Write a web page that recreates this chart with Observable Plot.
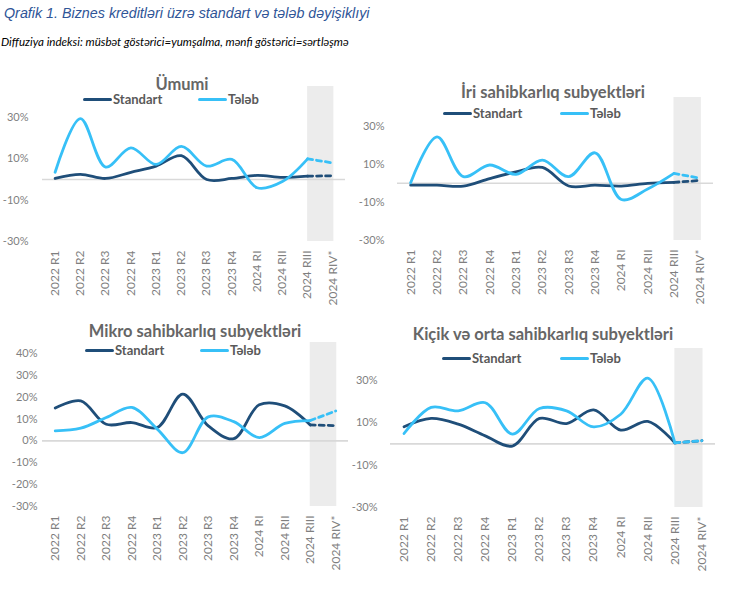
<!DOCTYPE html>
<html>
<head>
<meta charset="utf-8">
<script src="https://cdn.jsdelivr.net/npm/d3@7"></script>
<script src="https://cdn.jsdelivr.net/npm/@observablehq/plot@0.6"></script>
<style>
  html, body { margin: 0; padding: 0; background: #fff; }
  #root { position: relative; width: 732px; height: 599px; overflow: hidden; font-family: Lato, "Open Sans", sans-serif; }
  .abs { position: absolute; white-space: nowrap; }
  .title { left: 4px; top: 5px; font: italic 14.3px "Liberation Sans", Arial, sans-serif; color: #2f5597; }
  .subtitle { left: 1px; top: 35px; font: italic 11.6px Lato, "Liberation Sans", sans-serif; color: #000; }
  .ptitle { transform: translate(-50%, -50%); font: bold 16.5px Lato, sans-serif; color: #666666; }
  .leg { transform: translateY(-50%); font: bold 13px Lato, sans-serif; color: #595959; display: flex; align-items: center; }
  .sw { display: inline-block; width: 29px; height: 3px; border-radius: 1.5px; margin-right: 1px; }
  svg { position: absolute; overflow: visible; }
</style>
</head>
<body>
<div id="root"></div>
<script>
// ---- data ----
const categories = ["2022 R1","2022 R2","2022 R3","2022 R4","2023 R1","2023 R2","2023 R3","2023 R4","2024 RI","2024 RII","2024 RIII","2024 RIV*"];
const forecastFrom = "2024 RIII";   // shaded forecast area starts here
const forecastTo = "2024 RIV*";
const seriesNames = ["Standart", "Tələb"];

const umumiStandart = [0.5, 2.5, 0.5, 3.5, 6.5, 11.5, 0, 0.5, 2, 1, 1.6, 1.8];
const umumiTeleb    = [3.5, 29.5, 6, 15.3, 7.3, 16, 6.5, 9.7, -4, -1, 10, 8];

const iriStandart = [-1, -1, -1.5, 2.5, 6, 8.3, -1.4, -1, -1.5, 0, 0.5, 1.5];
const iriTeleb    = [0.3, 24.4, 3.5, 9.6, 4.7, 12.2, 3.5, 16, -8.5, -3, 5.2, 2.6];

const mikroStandart = [15, 18.3, 7.6, 8.4, 6.1, 21.4, 6.9, 1, 16.5, 16, 7.3, 7];
const mikroTeleb    = [4.6, 5.8, 10.7, 15.3, 5.4, -5.4, 11, 8.8, 1.5, 8, 9.3, 13.7];

const kosStandart = [8.1, 12, 9.3, 3.8, -1, 12, 9.6, 16, 6.5, 10.6, 0.5, 1.5];
const kosTeleb    = [4.9, 17.2, 15.6, 19.4, 4.6, 16.7, 15.6, 8, 14, 31, 0.5, 1.5];

const ticksWide = [-30, -10, 10, 30];
const ticksMikro = [-30, -20, -10, 0, 10, 20, 30, 40];

const panelTitles = ["Ümumi", "İri sahibkarlıq subyektləri", "Mikro sahibkarlıq subyektləri", "Kiçik və orta sahibkarlıq subyektləri"];

const colorStd = "#1f4e79";
const colorTel = "#37c0f7";

const root = document.getElementById("root");
function addDiv(cls, html, style) {
  const d = document.createElement("div");
  d.className = "abs " + cls;
  d.innerHTML = html;
  Object.assign(d.style, style);
  root.appendChild(d);
  return d;
}

addDiv("title", "Qrafik 1. Biznes kreditləri üzrə standart və tələb dəyişiklıyi", {});
addDiv("subtitle", "Diffuziya indeksi: müsbət göstərici=yumşalma, mənfi göstərici=sərtləşmə", {});

function panel(cfg) {
  const idx = categories.map((c, i) => i);
  const fIdx = categories.indexOf(forecastFrom);
  const tIdx = categories.indexOf(forecastTo);
  const mk = (arr) => idx.map(i => ({i, v: arr[i]}));
  const std = mk(cfg.std), tel = mk(cfg.tel);
  const solid = d => d.i <= fIdx;
  const dashed = d => d.i >= fIdx;
  const lineOpts = {x: "i", y: "v", curve: "catmull-rom", strokeWidth: 2.8, strokeLinecap: "round"};
  const chart = Plot.plot({
    width: cfg.width, height: cfg.height,
    marginLeft: cfg.mL, marginRight: cfg.mR, marginTop: cfg.mT, marginBottom: cfg.mB,
    style: {fontFamily: "Lato, sans-serif", fontSize: "11px", color: "#7f7f7f", background: "transparent", overflow: "visible"},
    x: {type: "linear", domain: [-0.5, categories.length - 0.5], axis: null},
    y: {domain: [-30, 45], axis: null},
    marks: [
      Plot.rectY([{x1: fIdx, x2: tIdx + 0.04}], {x1: "x1", x2: "x2", y1: -30, y2: 45, fill: "#ececec"}),
      Plot.ruleY([0], {stroke: "#d9d9d9", strokeWidth: 1.6, x1: -0.5, x2: categories.length - 0.5}),
      Plot.axisY({ticks: cfg.yTicks, tickFormat: d => d + "%", tickSize: 0, tickPadding: cfg.yPad, label: null, fontSize: 11, fill: "#7f7f7f"}),
      Plot.axisX({ticks: idx, tickFormat: i => categories[i], tickRotate: -90, tickSize: 0, tickPadding: 9, label: null, fontSize: 12, fill: "#7f7f7f"}),
      Plot.line(std.filter(solid), {...lineOpts, stroke: colorStd}),
      Plot.line(std.filter(dashed), {...lineOpts, stroke: colorStd, strokeDasharray: "5,4"}),
      Plot.line(tel.filter(solid), {...lineOpts, stroke: colorTel}),
      Plot.line(tel.filter(dashed), {...lineOpts, stroke: colorTel, strokeDasharray: "5,4"})
    ]
  });
  chart.style.left = cfg.left + "px";
  chart.style.top = cfg.top + "px";
  root.appendChild(chart);

  addDiv("ptitle", cfg.title, {left: cfg.tx + "px", top: cfg.ty + "px"});
  addDiv("leg", `<span class="sw" style="background:${colorStd}"></span>${seriesNames[0]}`, {left: cfg.l1 + "px", top: cfg.ly + "px"});
  addDiv("leg", `<span class="sw" style="background:${colorTel}"></span>${seriesNames[1]}`, {left: cfg.l2 + "px", top: cfg.ly + "px"});
}

panel({std: umumiStandart, tel: umumiTeleb, title: panelTitles[0],
  left: 0, top: 60, width: 360, height: 250, mL: 42, mR: 15, mT: 26, mB: 69,
  yTicks: ticksWide, yPad: 14, tx: 182, ty: 84, l1: 83, l2: 198, ly: 99});
panel({std: iriStandart, tel: iriTeleb, title: panelTitles[1],
  left: 350, top: 60, width: 382, height: 250, mL: 47, mR: 19, mT: 37, mB: 70,
  yTicks: ticksWide, yPad: 13, tx: 553, ty: 92, l1: 443, l2: 560, ly: 113});
panel({std: mikroStandart, tel: mikroTeleb, title: panelTitles[2],
  left: 0, top: 310, width: 360, height: 289, mL: 42, mR: 12, mT: 32, mB: 93,
  yTicks: ticksMikro, yPad: 5, tx: 195, ty: 331, l1: 85, l2: 200, ly: 350});
panel({std: kosStandart, tel: kosTeleb, title: panelTitles[3],
  left: 350, top: 310, width: 382, height: 289, mL: 40, mR: 17, mT: 38, mB: 92,
  yTicks: ticksWide, yPad: 13, tx: 543, ty: 334, l1: 442, l2: 560, ly: 358});
</script>
</body>
</html>
